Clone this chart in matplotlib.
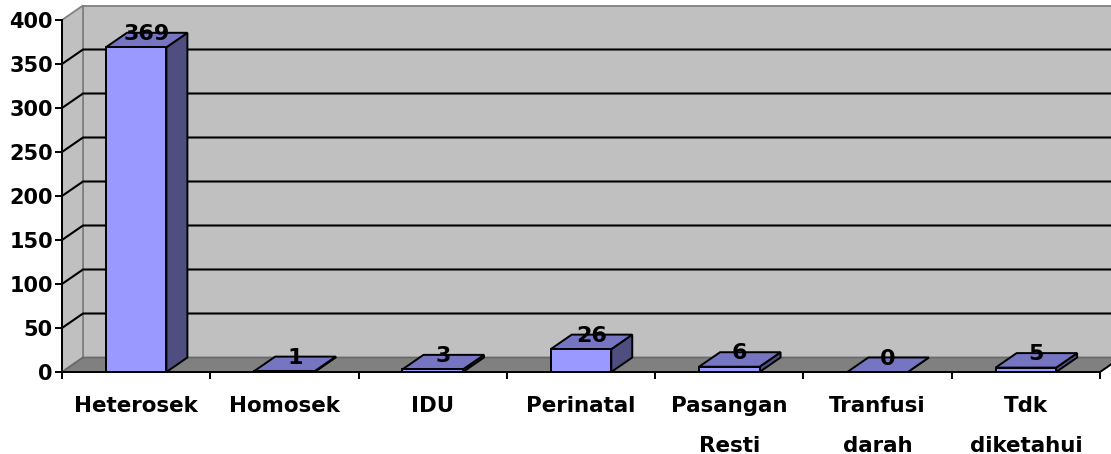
import matplotlib.pyplot as plt
from matplotlib.patches import Polygon, Rectangle

plt.rcParams['font.family'] = ['DejaVu Sans']
plt.rcParams['font.weight'] = 'bold'

kategori = ['Heterosek', 'Homosek', 'IDU', 'Perinatal',
            'Pasangan\nResti', 'Tranfusi\ndarah', 'Tdk\ndiketahui']
jumlah = [369, 1, 3, 26, 6, 0, 5]
yticks = [0, 50, 100, 150, 200, 250, 300, 350, 400]

# warna ala grafik 3D excel
depan = '#9999FF'
atas = '#7575C2'
samping = '#4E4E80'
dinding = '#C0C0C0'
lantai = '#808080'

# skala piksel -> data
px_x = 148.29     # piksel per kategori
px_y = 0.88       # piksel per satuan nilai
dx = 21 / px_x    # kedalaman 3D
dy = 14.5 / px_y
lebar = 60.5 / px_x
ymax = 400

fig = plt.figure(figsize=(11.11, 4.54), dpi=100)
ax = fig.add_axes([0, 0, 1, 1])
ax.set_xlim(-0.5 - 62 / px_x, -0.5 + 1049 / px_x)
ax.set_ylim(-(454 - 372) / px_y, 372 / px_y)

n = len(kategori)
x0, x1 = -0.5, n - 0.5

# dinding belakang, dinding kiri, lantai
ax.add_patch(Rectangle((x0 + dx, dy), x1 - x0, ymax, facecolor=dinding,
                       edgecolor='#808080', lw=1.3, zorder=1))
ax.add_patch(Polygon([(x0, 0), (x0 + dx, dy), (x0 + dx, ymax + dy), (x0, ymax)],
                     facecolor=dinding, edgecolor='#808080', lw=1.3, zorder=1))
ax.add_patch(Polygon([(x0, 0), (x1, 0), (x1 + dx, dy), (x0 + dx, dy)],
                     facecolor=lantai, edgecolor='#6a6a6a', lw=1.3, zorder=1))
ax.plot([x1, x1 + dx], [0, dy], color='black', lw=1.3, zorder=2)

# garis grid di dinding
for v in yticks[1:-1]:
    ax.plot([x0, x0 + dx, x1 + dx], [v, v + dy, v + dy], color='black',
            lw=1.5, zorder=2, solid_joinstyle='miter')

# batang 3D
for i, v in enumerate(jumlah):
    a, b = i - lebar / 2, i + lebar / 2
    ax.add_patch(Polygon([(b, 0), (b + dx, dy), (b + dx, v + dy), (b, v)],
                         facecolor=samping, edgecolor='black', lw=1.4, zorder=3))
    ax.add_patch(Polygon([(a, v), (b, v), (b + dx, v + dy), (a + dx, v + dy)],
                         facecolor=atas, edgecolor='black', lw=1.4, zorder=3))
    ax.add_patch(Rectangle((a, 0), lebar, v, facecolor=depan,
                           edgecolor='black', lw=1.4, zorder=3))
    ax.text(i + dx / 2, v + dy / 2, str(v), ha='center', va='baseline',
            fontsize=16, fontweight='bold', zorder=4)

# sumbu
for s in ['top', 'right']:
    ax.spines[s].set_visible(False)
ax.spines['left'].set_position(('data', x0))
ax.spines['left'].set_bounds(0, ymax)
ax.spines['bottom'].set_position(('data', 0))
ax.spines['bottom'].set_bounds(x0, x1)
for s in ['left', 'bottom']:
    ax.spines[s].set_linewidth(1.4)
    ax.spines[s].set_zorder(5)

ax.set_yticks(yticks)
ax.tick_params(axis='y', direction='out', length=5, width=1.4, pad=1.5,
               labelsize=15)
ax.set_xticks(range(n))
ax.set_xticklabels(kategori, fontsize=15.4, fontweight='bold', linespacing=2.25)
ax.set_xticks([k - 0.5 for k in range(n + 1)], minor=True)
ax.tick_params(axis='x', which='major', length=0, pad=17)
ax.tick_params(axis='x', which='minor', direction='out', length=5, width=1.4)
for lbl in ax.get_yticklabels():
    lbl.set_fontweight('bold')

fig.savefig('out.png', dpi=100)
